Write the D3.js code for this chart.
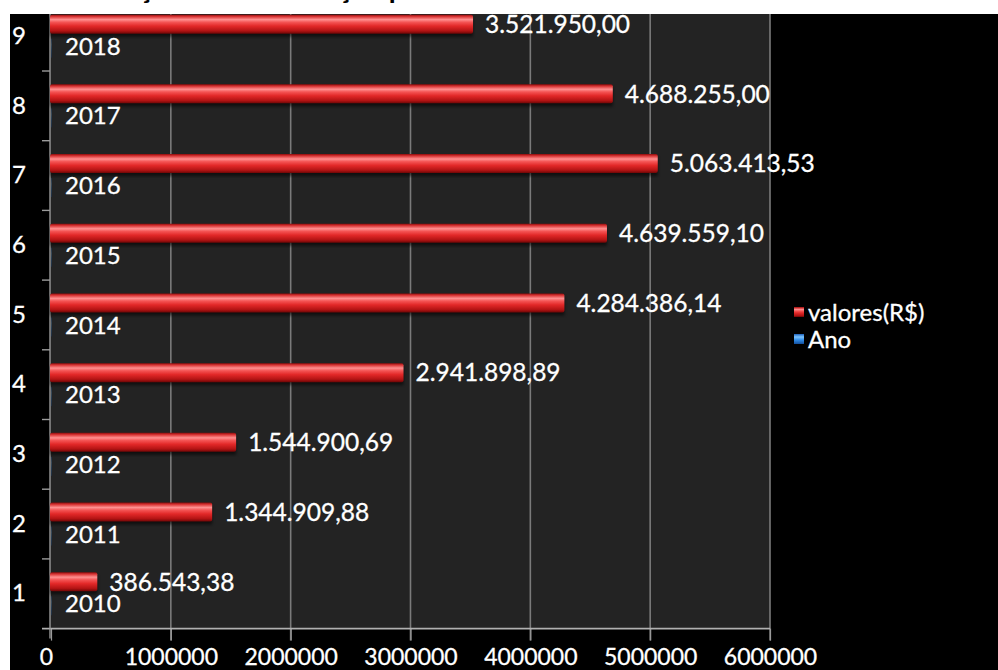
<!DOCTYPE html>
<html>
<head>
<meta charset="utf-8">
<script src="https://cdn.jsdelivr.net/npm/d3@7"></script>
<style>
  html, body { margin: 0; padding: 0; background: #000; }
  svg { display: block; }
  text { font-family: Lato, "Open Sans", sans-serif; }
</style>
</head>
<body>
<svg id="chart" width="998" height="670"></svg>
<script>
// Categories (1..9), the year of each one and the amount collected in R$
const categories = ["1", "2", "3", "4", "5", "6", "7", "8", "9"];
const anos = [2010, 2011, 2012, 2013, 2014, 2015, 2016, 2017, 2018];
const valores = [386543.38, 1344909.88, 1544900.69, 2941898.89, 4284386.14,
                 4639559.10, 5063413.53, 4688255.00, 3521950.00];
const xTicks = [0, 1000000, 2000000, 3000000, 4000000, 5000000, 6000000];
const seriesNames = ["valores(R$)", "Ano"];
const titleText = "Evolução da Arrecadação por Ano";

const rows = categories.map((c, i) => ({ cat: c, valor: valores[i], ano: anos[i] }));

const brl = d3.formatLocale({ decimal: ",", thousands: ".", grouping: [3], currency: ["R$", ""] });
const fmtValor = brl.format(",.2f");

const svg = d3.select("#chart");
const W = 998, H = 670;

const plot = { left: 50, right: 770, top: 1.3, bottom: 628.6 };

const x = d3.scaleLinear().domain([0, 6000000]).range([51, plot.right]);
const y = d3.scaleBand().domain(categories).range([plot.bottom, plot.top]);
const sub = d3.scaleBand().domain(["valor", "ano"]).range([0, y.bandwidth()])
  .paddingInner(0.208).paddingOuter(0.556);

const defs = svg.append("defs");
const redGrad = defs.append("linearGradient").attr("id", "redBar")
  .attr("x1", 0).attr("y1", 0).attr("x2", 0).attr("y2", 1);
[[0, "#8e0c0c"], [0.1, "#d83434"], [0.26, "#ff9090"], [0.4, "#f45454"],
 [0.6, "#e22828"], [0.85, "#b31414"], [1, "#6e0606"]]
  .forEach(([o, c]) => redGrad.append("stop").attr("offset", o).attr("stop-color", c));
const blueGrad = defs.append("linearGradient").attr("id", "blueBar")
  .attr("x1", 0).attr("y1", 0).attr("x2", 0).attr("y2", 1);
[[0, "#1b5fb8"], [0.3, "#7cc4ff"], [0.6, "#2f8ae6"], [1, "#134f9e"]]
  .forEach(([o, c]) => blueGrad.append("stop").attr("offset", o).attr("stop-color", c));
defs.append("filter").attr("id", "soft")
  .append("feGaussianBlur").attr("stdDeviation", 1.6);

// Background
svg.append("rect").attr("width", W).attr("height", H).attr("fill", "#000");
svg.append("rect")
  .attr("x", plot.left).attr("y", plot.top)
  .attr("width", plot.right - plot.left).attr("height", plot.bottom - plot.top)
  .attr("fill", "#232323");

// Vertical gridlines, running on below the axis as ticks
const grid = svg.append("g");
grid.selectAll("line").data(xTicks.slice(1)).join("line")
  .attr("x1", d => x(d)).attr("x2", d => x(d))
  .attr("y1", plot.top).attr("y2", plot.bottom + 12)
  .attr("stroke", "#7a7a7a").attr("stroke-width", 1.6);

// Bottom axis
const xAxis = svg.append("g").attr("transform", `translate(0,${plot.bottom})`)
  .call(d3.axisBottom(x).tickValues(xTicks).tickFormat(d3.format("d")).tickSize(12).tickPadding(8));
xAxis.select(".domain").remove();
xAxis.selectAll(".tick line").attr("stroke", "#9a9a9a").attr("stroke-width", 1.2);
xAxis.selectAll(".tick text").attr("fill", "#fff").attr("font-size", 23)
  .attr("stroke", "#fff").attr("stroke-width", 0.3)
  .attr("font-family", "Lato, sans-serif");
xAxis.selectAll(".tick").filter(d => d === 0).select("text").attr("dx", -5);
svg.append("line")
  .attr("x1", 42).attr("x2", plot.right)
  .attr("y1", plot.bottom).attr("y2", plot.bottom)
  .attr("stroke", "#b0b0b0").attr("stroke-width", 1.6);

// Left axis: category numbers, ticks between bands
const yAxis = svg.append("g").attr("transform", `translate(${plot.left},0)`)
  .call(d3.axisLeft(y).tickSize(0));
yAxis.select(".domain").remove();
yAxis.selectAll(".tick text").attr("fill", "#fff").attr("font-size", 24)
  .attr("stroke", "#fff").attr("stroke-width", 0.3)
  .attr("text-anchor", "middle").attr("x", -31).attr("font-family", "Lato, sans-serif");
svg.append("line")
  .attr("x1", plot.left).attr("x2", plot.left)
  .attr("y1", plot.top).attr("y2", plot.bottom + 10)
  .attr("stroke", "#9a9a9a").attr("stroke-width", 1.4);
svg.append("g").selectAll("line").data(categories.slice(0, -1)).join("line")
  .attr("x1", 42).attr("x2", plot.left)
  .attr("y1", d => y(d)).attr("y2", d => y(d))
  .attr("stroke", "#9a9a9a").attr("stroke-width", 1.4);

// Bars
const groups = svg.append("g").selectAll("g").data(rows).join("g")
  .attr("transform", d => `translate(0,${y(d.cat)})`);

groups.append("rect")
  .attr("x", x(0) - 1).attr("y", sub("valor") + 3)
  .attr("width", d => x(d.valor) - x(0) + 1).attr("height", sub.bandwidth())
  .attr("fill", "#000").attr("opacity", 0.55).attr("filter", "url(#soft)");
groups.append("rect")
  .attr("x", x(0) - 1).attr("y", sub("valor"))
  .attr("width", d => x(d.valor) - x(0) + 1).attr("height", sub.bandwidth())
  .attr("rx", 2).attr("fill", "url(#redBar)");
groups.append("rect")
  .attr("x", x(0)).attr("y", sub("ano"))
  .attr("width", d => x(d.ano) - x(0)).attr("height", sub.bandwidth())
  .attr("fill", "url(#blueBar)");

// Data labels
groups.append("text")
  .attr("x", d => x(d.valor) + 12)
  .attr("y", sub("valor") + sub.bandwidth() / 2)
  .attr("dy", "0.36em")
  .attr("fill", "#fff").attr("stroke", "#fff").attr("stroke-width", 0.3)
  .attr("font-size", 24.5)
  .text(d => fmtValor(d.valor));
groups.append("text")
  .attr("x", x(0) + 14)
  .attr("y", sub("ano") + sub.bandwidth() / 2 - 2)
  .attr("dy", "0.36em")
  .attr("fill", "#fff").attr("stroke", "#fff").attr("stroke-width", 0.3)
  .attr("font-size", 24)
  .text(d => d.ano);

// Legend
const legend = svg.append("g").attr("transform", "translate(794,312)");
const li = legend.selectAll("g").data(seriesNames).join("g")
  .attr("transform", (d, i) => `translate(0,${i * 27})`);
li.append("rect").attr("x", 0).attr("y", -5).attr("width", 10).attr("height", 10)
  .attr("fill", (d, i) => i === 0 ? "url(#redBar)" : "url(#blueBar)");
li.append("text").attr("x", 14).attr("y", 0).attr("dy", "0.36em")
  .attr("fill", "#fff").attr("stroke", "#fff").attr("stroke-width", 0.3)
  .attr("font-size", 24).text(d => d);

// White page margin and the chart title above the picture
svg.append("rect").attr("x", 0).attr("y", 0).attr("width", W).attr("height", 14).attr("fill", "#fff");
svg.append("rect").attr("x", 0).attr("y", 0).attr("width", 10).attr("height", H).attr("fill", "#fff");
svg.append("text").attr("x", 70).attr("y", -2)
  .attr("font-family", "'Liberation Serif', serif").attr("font-weight", "bold")
  .attr("font-size", 28).attr("fill", "#000").text(titleText);
</script>
</body>
</html>
